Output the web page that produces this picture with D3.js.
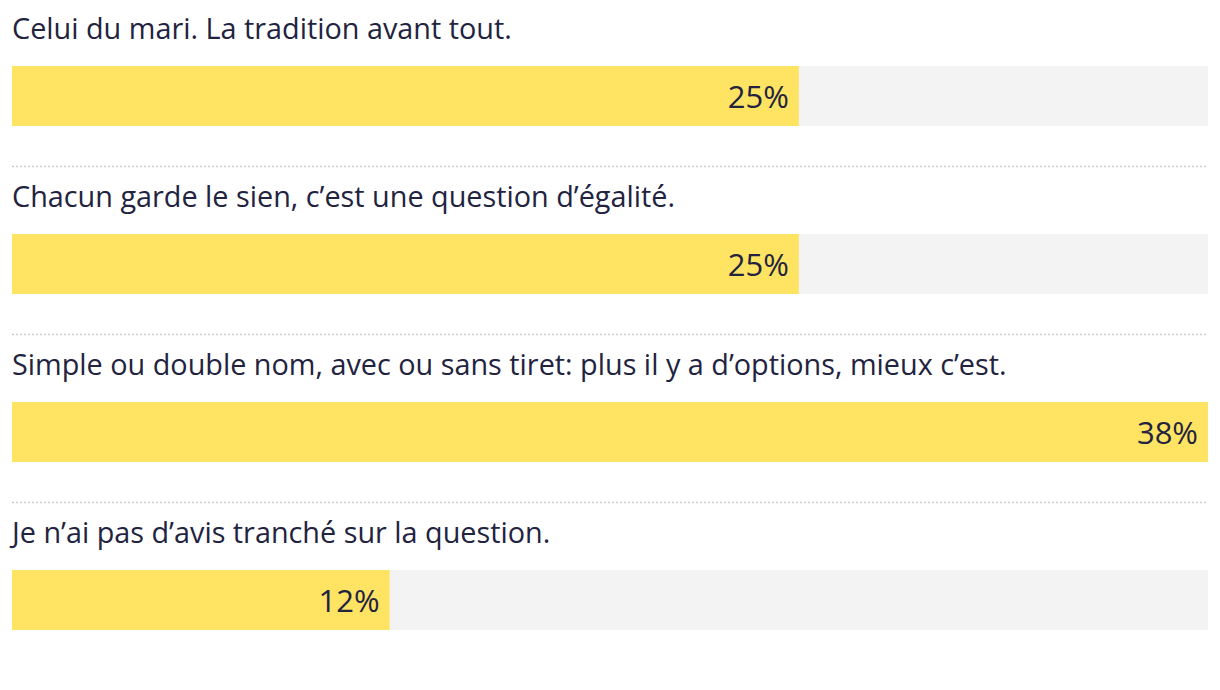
<!DOCTYPE html>
<html><head><meta charset="utf-8">
<script src="https://cdn.jsdelivr.net/npm/d3@7"></script>
<style>
html,body{margin:0;padding:0;background:#fff;}
svg text{font-family:"Open Sans","Noto Sans",sans-serif;}
</style></head>
<body><div id="chart"></div>
<script>
const categories = [
  "Celui du mari. La tradition avant tout.",
  "Chacun garde le sien, c\u2019est une question d\u2019\u00e9galit\u00e9.",
  "Simple ou double nom, avec ou sans tiret: plus il y a d\u2019options, mieux c\u2019est.",
  "Je n\u2019ai pas d\u2019avis tranch\u00e9 sur la question."
];
const values = [25, 25, 38, 12];
const valueLabels = ["25%", "25%", "38%", "12%"];

const W = 1220, H = 690;
const left = 12, right = 1208;
const rowH = 168, barTop = 66, barH = 60;

const svg = d3.select("#chart").append("svg").attr("width", W).attr("height", H);

const x = d3.scaleLinear().domain([0, d3.max(values)]).range([left, right]);
const y = d3.scaleBand().domain(d3.range(categories.length)).range([0, rowH * categories.length]).padding(0);

const g = svg.selectAll("g.row").data(categories).enter().append("g")
  .attr("class", "row").attr("transform", (d, i) => `translate(0,${y(i)})`);

g.append("text").attr("x", left).attr("y", 39)
  .attr("font-size", 28.8).attr("fill", "#22233f").text(d => d);

g.append("rect").attr("x", left).attr("y", barTop).attr("width", right - left).attr("height", barH)
  .attr("fill", "#f3f3f3");

g.append("rect").attr("x", left).attr("y", barTop)
  .attr("width", (d, i) => x(values[i]) - left).attr("height", barH).attr("fill", "#ffe363");

g.append("text").attr("x", (d, i) => x(values[i]) - 10).attr("y", barTop + 42)
  .attr("text-anchor", "end")
  .attr("font-size", 31).attr("fill", "#22233f").text((d, i) => valueLabels[i]);

g.filter((d, i) => i < categories.length - 1).append("line")
  .attr("x1", left).attr("x2", right).attr("y1", 166.5).attr("y2", 166.5)
  .attr("stroke", "#cccccc").attr("stroke-width", 1.5).attr("stroke-dasharray", "2,2");
</script></body></html>
